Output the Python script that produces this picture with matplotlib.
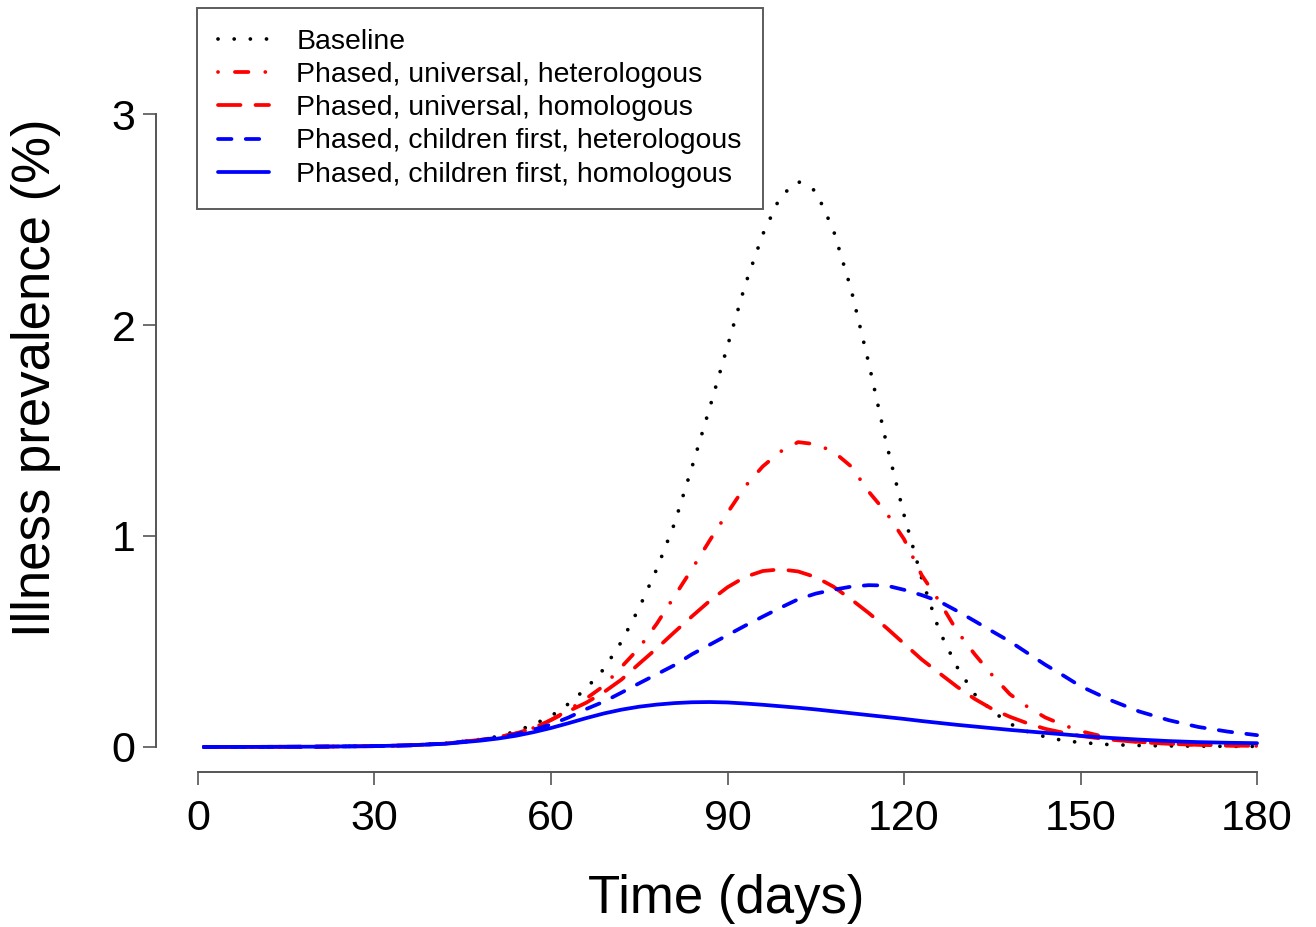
import matplotlib
matplotlib.use("Agg")
import matplotlib.pyplot as plt

plt.rcParams['font.family'] = ['Liberation Sans', 'DejaVu Sans']

W, H = 1316, 927

days = [1, 10, 20, 30, 36, 42, 48, 51, 54, 57, 60, 63, 66, 69, 72, 75, 78, 81,
        84, 87, 90, 93, 96, 99, 102, 105, 108, 111, 114, 117, 120, 123, 126,
        129, 132, 135, 138, 141, 144, 147, 150, 155, 160, 165, 170, 175, 180]

# illness prevalence (%) per scenario
baseline = [0.0, 0.0005, 0.0015, 0.004, 0.008, 0.017, 0.036, 0.050, 0.074,
            0.106, 0.146, 0.205, 0.278, 0.37, 0.50, 0.66, 0.845, 1.06, 1.33,
            1.61, 1.90, 2.19, 2.43, 2.61, 2.68, 2.635, 2.45, 2.17, 1.82, 1.44,
            1.10, 0.80, 0.55, 0.38, 0.25, 0.17, 0.11, 0.073, 0.048, 0.031,
            0.021, 0.011, 0.007, 0.005, 0.004, 0.003, 0.003]
univ_hetero = [0.0, 0.0005, 0.0015, 0.004, 0.008, 0.016, 0.034, 0.046, 0.064,
               0.09, 0.128, 0.175, 0.23, 0.29, 0.38, 0.47, 0.585, 0.715, 0.845,
               0.98, 1.11, 1.235, 1.33, 1.40, 1.445, 1.435, 1.40, 1.33, 1.21,
               1.11, 0.985, 0.815, 0.69, 0.55, 0.44, 0.34, 0.25, 0.19, 0.14,
               0.105, 0.075, 0.042, 0.024, 0.015, 0.010, 0.007, 0.005]
univ_homo = [0.0, 0.0005, 0.0015, 0.004, 0.008, 0.016, 0.034, 0.046, 0.064,
             0.09, 0.128, 0.17, 0.21, 0.26, 0.32, 0.395, 0.468, 0.545, 0.62,
             0.693, 0.757, 0.806, 0.834, 0.842, 0.832, 0.805, 0.76, 0.70,
             0.635, 0.565, 0.49, 0.415, 0.35, 0.286, 0.228, 0.18, 0.143, 0.112,
             0.086, 0.068, 0.052, 0.035, 0.023, 0.015, 0.010, 0.007, 0.005]
child_hetero = [0.0, 0.0005, 0.0015, 0.004, 0.008, 0.016, 0.033, 0.044, 0.06,
                0.082, 0.107, 0.14, 0.18, 0.215, 0.258, 0.302, 0.345, 0.388,
                0.44, 0.485, 0.53, 0.575, 0.618, 0.66, 0.70, 0.727, 0.745,
                0.76, 0.767, 0.765, 0.745, 0.72, 0.69, 0.645, 0.597, 0.548,
                0.50, 0.445, 0.39, 0.34, 0.288, 0.223, 0.168, 0.127, 0.095,
                0.073, 0.056]
child_homo = [0.0, 0.0005, 0.0015, 0.004, 0.008, 0.015, 0.03, 0.04, 0.053,
              0.07, 0.09, 0.113, 0.137, 0.159, 0.177, 0.191, 0.201, 0.208,
              0.212, 0.213, 0.211, 0.206, 0.2, 0.193, 0.186, 0.178, 0.169,
              0.16, 0.151, 0.142, 0.133, 0.123, 0.114, 0.105, 0.097, 0.089,
              0.081, 0.074, 0.067, 0.06, 0.053, 0.043, 0.035, 0.028, 0.023,
              0.02, 0.018]

labels = ["Baseline",
          "Phased, universal, heterologous",
          "Phased, universal, homologous",
          "Phased, children first, heterologous",
          "Phased, children first, homologous"]

fig = plt.figure(figsize=(W / 100, H / 100), dpi=100)
ax = fig.add_axes([155.6 / W, 1 - 772.3 / H, 1143.8 / W, 683.6 / H])

lw = 2.7
ax.plot(days, baseline, color="black", lw=lw, ls=(0, (0.01, 4.3)),
        dash_capstyle="round", label=labels[0])
ax.plot(days, univ_hetero, color="red", lw=lw, ls=(0, (0.01, 4.5, 3.6, 4.5)),
        dash_capstyle="round", label=labels[1])
ax.plot(days, univ_homo, color="red", lw=lw, ls=(0, (6.0, 4.0)),
        dash_capstyle="round", label=labels[2])
ax.plot(days, child_hetero, color="blue", lw=lw, ls=(0, (3.6, 3.8)),
        dash_capstyle="round", label=labels[3])
ax.plot(days, child_homo, color="blue", lw=lw, ls="-",
        solid_capstyle="round", label=labels[4])

# R-style axes: range padded by 4%, axis lines only span the ticks
ax.set_xlim(-7.2, 187.2)
ax.set_ylim(-0.12, 3.12)
ax.spines["top"].set_visible(False)
ax.spines["right"].set_visible(False)
for s in ("left", "bottom"):
    ax.spines[s].set_color("#555555")
    ax.spines[s].set_linewidth(1.4)
ax.spines["left"].set_bounds(0, 3)
ax.spines["bottom"].set_bounds(0, 180)
ax.set_xticks([0, 30, 60, 90, 120, 150, 180])
ax.set_yticks([0, 1, 2, 3])
ax.tick_params(axis="both", direction="out", length=9.4, width=1.2,
               color="#555555", labelsize=31)
ax.tick_params(axis="x", pad=10)
ax.tick_params(axis="y", pad=5)
ax.patch.set_visible(False)

fig.text(726.5 / W, 1 - 913 / H, "Time (days)", fontsize=38,
         ha="center", va="baseline")
fig.text(50 / W, 1 - 377.5 / H, "Illness prevalence (%)", fontsize=38,
         rotation=90, rotation_mode="anchor", ha="center", va="baseline")

leg = fig.legend(loc="upper left", bbox_to_anchor=(197 / W, 1 - 8 / H),
                 borderaxespad=0, fontsize=20.4, handlelength=1.8,
                 handletextpad=0.95, labelspacing=0.25, borderpad=0.75,
                 fancybox=False, frameon=True)
leg.get_frame().set_edgecolor("#333333")
leg.get_frame().set_linewidth(1.4)

fig.savefig("out.png", dpi=100)
